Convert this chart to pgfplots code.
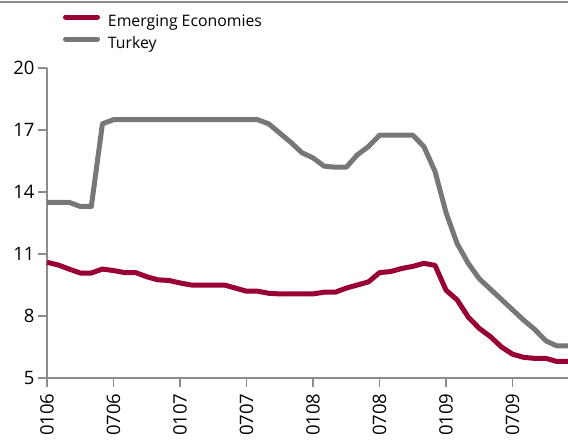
\documentclass[border=0pt]{standalone}
\usepackage{fontspec}
\setmainfont{Open Sans}
\usepackage{pgfplots}
\pgfplotsset{compat=1.18}
\definecolor{emred}{HTML}{990033}
\definecolor{tkgray}{HTML}{777777}
\definecolor{axgray}{HTML}{8C8C8C}
\pgfplotstableread{
m em tk
0 10.6 13.5
1 10.47 13.5
2 10.27 13.5
3 10.08 13.3
4 10.08 13.3
5 10.27 17.3
6 10.2 17.5
7 10.1 17.5
8 10.1 17.5
9 9.9 17.5
10 9.75 17.5
11 9.72 17.5
12 9.6 17.5
13 9.5 17.5
14 9.5 17.5
15 9.5 17.5
16 9.5 17.5
17 9.35 17.5
18 9.2 17.5
19 9.2 17.5
20 9.1 17.3
21 9.07 16.85
22 9.07 16.4
23 9.07 15.9
24 9.07 15.65
25 9.15 15.25
26 9.15 15.2
27 9.35 15.2
28 9.5 15.8
29 9.65 16.2
30 10.1 16.75
31 10.15 16.75
32 10.3 16.75
33 10.4 16.75
34 10.55 16.2
35 10.45 15.0
36 9.25 13.0
37 8.78 11.5
38 7.95 10.55
39 7.4 9.8
40 7.0 9.3
41 6.5 8.8
42 6.15 8.3
43 6.0 7.8
44 5.95 7.35
45 5.95 6.8
46 5.8 6.55
47 5.8 6.55
}\data
\begin{document}
\begin{tikzpicture}[x=1pt,y=1pt]
\path[use as bounding box] (-47,-62) rectangle (521,378);
\draw[axgray, line width=1.5pt] (-47,376) -- (521,376);
\begin{axis}[
  at={(0,0)}, anchor=south west,
  width=521pt, height=310pt, scale only axis,
  xmin=0, xmax=47, ymin=5, ymax=20,
  clip=false,
  axis x line*=bottom, axis y line*=left,
  axis line style={draw=axgray, line width=1.5pt, -},
  tick align=outside, major tick length=9pt,
  tick style={axgray, line width=1.5pt},
  xtick={0,6,...,42},
  xticklabels={0106,0706,0107,0707,0108,0708,0109,0709},
  ytick={5,8,11,14,17,20},
  tick label style={font=\fontsize{18.5}{21}\selectfont},
  /pgf/number format/assume math mode=true,
  x tick label style={rotate=90, anchor=east},
  xticklabel shift=3pt,
  legend style={draw=none, fill=none, inner sep=0pt, outer sep=0pt,
    at={(0,1)}, anchor=south west, xshift=16pt, yshift=13pt,
    font=\fontsize{15.8}{19}\selectfont, row sep=0pt,
    nodes={inner xsep=0pt, inner ysep=3pt, text height=12pt, text depth=4pt},
    /tikz/every odd column/.append style={column sep=8pt}},
  legend cell align=left,
  legend image code/.code={\draw[#1, line width=5pt, line cap=round] (2.5pt,5pt) -- (34.5pt,5pt);},
]
\addplot[emred, line width=5pt, line join=round] table[x=m, y=em] {\data};
\addlegendentry{Emerging Economies}
\addplot[tkgray, line width=5pt, line join=round] table[x=m, y=tk] {\data};
\addlegendentry{Turkey}
\end{axis}
\end{tikzpicture}
\end{document}
